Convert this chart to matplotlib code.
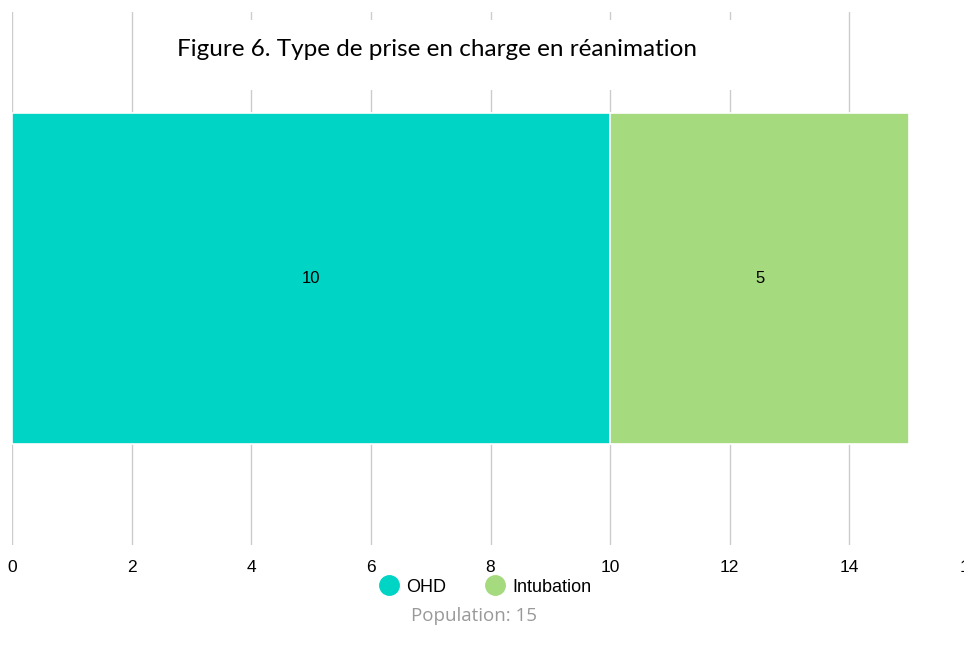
import matplotlib
matplotlib.use('Agg')
import matplotlib.pyplot as plt
from matplotlib.lines import Line2D
from matplotlib.patches import Rectangle

categories = ["OHD", "Intubation"]
values = [10, 5]
colors = ["#00D4C5", "#A6DA7E"]
title = "Figure 6. Type de prise en charge en réanimation"
population = 15

W, H = 964, 654
fig = plt.figure(figsize=(W / 100, H / 100), dpi=100)
# axes run slightly past the right edge, as in the reference (16 label is cut)
ax = fig.add_axes([12 / W, 1 - 545 / H, 957 / W, 533 / H])

left = 0
for cat, val, col in zip(categories, values, colors):
    ax.barh(0, val, left=left, height=0.62, color=col, edgecolor="white",
            linewidth=1.2, zorder=3)
    ax.text(left + val / 2, 0, str(val), ha="center", va="center",
            fontsize=12, family="Liberation Sans", color="black", zorder=4)
    left += val

ax.set_xlim(0, 16)
ax.set_ylim(-0.5, 0.5)
ax.set_xticks(range(0, 17, 2))
ax.set_yticks([])
ax.grid(axis="x", color="#cccccc", linewidth=1, zorder=0)
for s in ax.spines.values():
    s.set_visible(False)
ax.tick_params(axis="x", length=0, pad=11, labelsize=12.5)
for lbl in ax.get_xticklabels():
    lbl.set_family("Liberation Sans")

# white box behind the title, hiding the gridlines
fig.patches.append(Rectangle((140 / W, 1 - 90 / H), 700 / W, 70 / H,
                             transform=fig.transFigure, facecolor="white",
                             edgecolor="none", zorder=5))
fig.text(437 / W, 1 - 50 / H, title, ha="center", va="center", fontsize=17.5,
         family="Lato", color="black", zorder=6)

handles = [Line2D([], [], marker="o", linestyle="", markersize=14,
                  markerfacecolor=c, markeredgecolor=c) for c in colors]
fig.legend(handles, categories, loc="center", ncol=2,
           bbox_to_anchor=(486 / W, 1 - 587 / H), frameon=False,
           prop={"family": "Liberation Sans", "size": 13},
           handletextpad=0.45, columnspacing=2.2, handlelength=1.0)
fig.text(474 / W, 1 - 616 / H, "Population: " + str(population), ha="center",
         va="center", fontsize=13.5, family="Open Sans", color="#999999")

fig.savefig("out.png", dpi=100)
plt.close()
